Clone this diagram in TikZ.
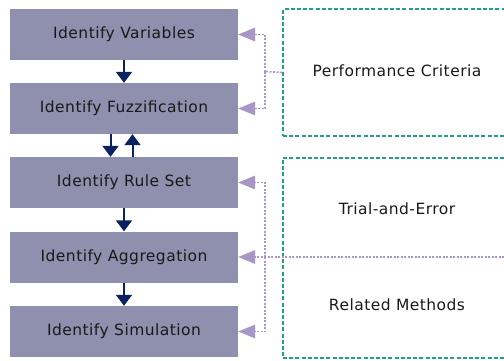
\documentclass[tikz,border=0pt]{standalone}
\usepackage{fontspec}
\setmainfont{DejaVu Sans}[LetterSpace=3]
\usetikzlibrary{arrows.meta}
\definecolor{stepfill}{HTML}{8F8FAE}
\definecolor{navyarrow}{HTML}{0B2260}
\definecolor{sourceline}{HTML}{22A085}
\definecolor{feedline}{HTML}{A896C6}
\tikzset{
  stepbox/.style={draw=none, fill=stepfill, minimum width=228pt, minimum height=51pt,
    inner sep=0pt, font=\fontsize{15.5}{18}\selectfont, text=black!90},
  sourcebox/.style={draw=sourceline, line width=1.8pt, dash pattern=on 4pt off 2.2pt,
    inner sep=0pt},
  label/.style={font=\fontsize{15.5}{18}\selectfont, text=black!90},
  flow/.style={draw=navyarrow, line width=2pt,
    -{Triangle[width=16pt,length=11pt]}},
  feed/.style={draw=feedline, line width=1.6pt, dash pattern=on 2pt off 1.5pt},
  feedarrow/.style={feed, -{Triangle[width=14pt,length=17pt,fill=feedline,line width=0pt,sep=0pt]}}
}
\begin{document}
\begin{tikzpicture}[x=1pt, y=-1pt]
  \useasboundingbox (0,0) rectangle (504,360);
  \clip (0,0) rectangle (504,360);

  % process steps
  \node[stepbox] (v) at (124,34.5)  {Identify Variables};
  \node[stepbox] (f) at (124,108.5) {Identify Fuzzification};
  \node[stepbox] (r) at (124,182.5) {Identify Rule Set};
  \node[stepbox] (a) at (124,257)   {Identify Aggregation};
  \node[stepbox] (s) at (124,331.5) {Identify Simulation};

  % sources on the right
  \node[sourcebox, minimum width=240pt, minimum height=127pt, anchor=north west]
    (pc) at (282,8) {};
  \node[sourcebox, minimum width=240pt, minimum height=200pt, anchor=north west]
    (tm) at (282,157) {};
  \node[label] (pct) at (397,71)  {Performance Criteria};
  \node[label] (tet) at (397,209) {Trial-and-Error};
  \node[label] (rmt) at (397,305) {Related Methods};

  % main flow
  \draw[flow] (v.south) -- (f.north);
  \draw[flow] ([xshift=-13.5pt]f.south) -- ([xshift=-13.5pt]r.north);
  \draw[flow] ([xshift=8.5pt]r.north) -- ([xshift=8.5pt]f.south);
  \draw[flow] (r.south) -- (a.north);
  \draw[flow] (a.south) -- (s.north);

  % feedback from the sources
  \coordinate (j1) at (265,71.5);
  \draw[feed] (pc.west) -- (j1);
  \draw[feedarrow] (j1) |- (v.east);
  \draw[feedarrow] (j1) |- (f.east);

  \coordinate (j2) at (265,257);
  \coordinate (edge) at (504,257);
  \draw[feedarrow] (edge) -- (a.east);
  \draw[feedarrow] (j2) |- (r.east);
  \draw[feedarrow] (j2) |- (s.east);
\end{tikzpicture}
\end{document}
